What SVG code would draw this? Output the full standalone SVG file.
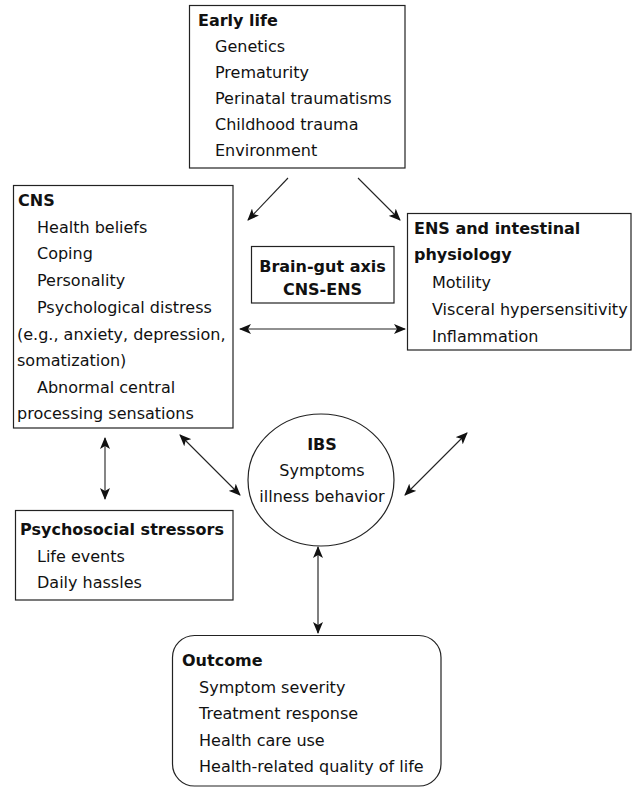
<svg xmlns="http://www.w3.org/2000/svg" width="632" height="789" viewBox="0 0 632 789">
<style>
text{font-family:"DejaVu Sans","Liberation Sans",sans-serif;font-size:16px;fill:#111}
.b{font-weight:bold}
.c{text-anchor:middle}
.box{fill:#fff;stroke:#222;stroke-width:1.2}
.con line{stroke:#222;stroke-width:1.1;marker-end:url(#ah);marker-start:url(#ahs)}
.con line.one{marker-start:none}
</style>
<defs>
<marker id="ah" viewBox="0 0 12 10" refX="11" refY="5" markerWidth="12" markerHeight="10" markerUnits="userSpaceOnUse" orient="auto">
<path d="M0,0 L12,5 L0,10 L3,5 Z" fill="#111"/>
</marker>
<marker id="ahs" viewBox="0 0 12 10" refX="1" refY="5" markerWidth="12" markerHeight="10" markerUnits="userSpaceOnUse" orient="auto">
<path d="M12,0 L0,5 L12,10 L9,5 Z" fill="#111"/>
</marker>
</defs>
<rect width="632" height="789" fill="#fff"/>
<g id="early-life">
<rect class="box" x="189.5" y="5.5" width="215.5" height="162.5"/>
<text class="b" x="198" y="26">Early life</text>
<text x="215" y="52">Genetics</text>
<text x="215" y="78">Prematurity</text>
<text x="215" y="104">Perinatal traumatisms</text>
<text x="215" y="130">Childhood trauma</text>
<text x="215" y="156">Environment</text>
</g>
<g id="cns">
<rect class="box" x="13.5" y="185.5" width="219.5" height="242.5"/>
<text class="b" x="18" y="206">CNS</text>
<text x="37" y="232.7">Health beliefs</text>
<text x="37" y="259.4">Coping</text>
<text x="37" y="286">Personality</text>
<text x="37" y="312.8">Psychological distress</text>
<text x="17" y="339.5">(e.g., anxiety, depression,</text>
<text x="17" y="366">somatization)</text>
<text x="37" y="393">Abnormal central</text>
<text x="17" y="419">processing sensations</text>
</g>
<g id="brain-gut">
<rect class="box" x="251.5" y="246.5" width="142.5" height="56.5"/>
<text class="b c" x="322.5" y="272">Brain-gut axis</text>
<text class="b c" x="322.5" y="295">CNS-ENS</text>
</g>
<g id="ens">
<rect class="box" x="407.5" y="213.5" width="223.5" height="136.5"/>
<text class="b" x="414" y="234">ENS and intestinal</text>
<text class="b" x="414" y="260">physiology</text>
<text x="432" y="288">Motility</text>
<text x="432" y="315">Visceral hypersensitivity</text>
<text x="432" y="342">Inflammation</text>
</g>
<g id="ibs">
<ellipse class="box" cx="321" cy="480" rx="73" ry="66"/>
<text class="b c" x="322" y="450">IBS</text>
<text class="c" x="322" y="476">Symptoms</text>
<text class="c" x="322" y="502">illness behavior</text>
</g>
<g id="psychosocial">
<rect class="box" x="15.5" y="510.5" width="217.5" height="89.5"/>
<text class="b" x="20" y="535">Psychosocial stressors</text>
<text x="37" y="562">Life events</text>
<text x="37" y="588">Daily hassles</text>
</g>
<g id="outcome">
<rect class="box" x="172.5" y="635.5" width="268.5" height="150.5" rx="22" ry="22"/>
<text class="b" x="182" y="666">Outcome</text>
<text x="199" y="693">Symptom severity</text>
<text x="199" y="719">Treatment response</text>
<text x="199" y="746">Health care use</text>
<text x="199" y="772">Health-related quality of life</text>
</g>
<g id="connectors" class="con">
<line class="one" x1="288" y1="178" x2="248" y2="220"/>
<line class="one" x1="358" y1="178" x2="400" y2="220"/>
<line x1="240" y1="329" x2="405" y2="329"/>
<line x1="105" y1="438" x2="105" y2="499"/>
<line x1="180" y1="435" x2="240" y2="495"/>
<line x1="405" y1="495" x2="467" y2="433"/>
<line x1="318" y1="547" x2="318" y2="633" style="stroke:#555;stroke-width:1.5"/>
</g>
</svg>
